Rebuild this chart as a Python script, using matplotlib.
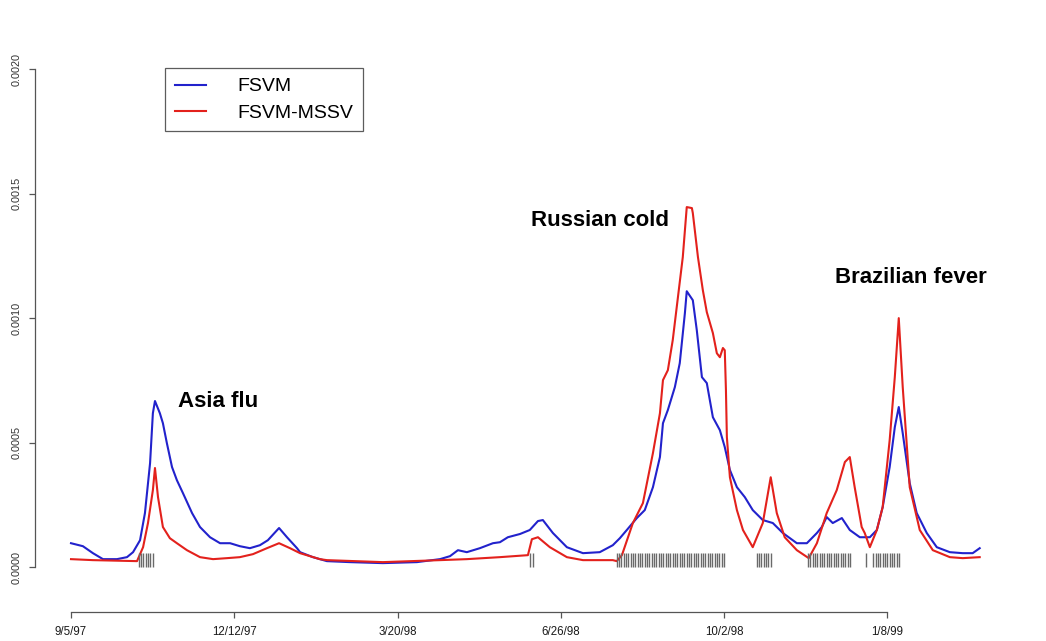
import matplotlib.pyplot as plt

plt.rcParams["font.family"] = ["Liberation Sans", "DejaVu Sans"]

# ==========================================================
# Data (trading-day index since 9/5/97)

fsvm_days = [0, 5.1, 9.4, 13.7, 19.7, 24.0, 26.6, 29.6, 31.7, 33.9, 35.1, 36.0,
    38.1, 39.4, 41.1, 43.3, 45.4, 48.0, 51.9, 55.3, 59.6, 63.9, 68.2, 72.4,
    76.7, 81.0, 84.4, 89.2, 92.6, 96.9, 98.2, 103.7, 109.7, 119.6, 133.7,
    148.3, 158.2, 162.5, 165.9, 169.7, 175.3, 180.9, 183.9, 187.3, 192.5,
    196.7, 200.2, 202.3, 206.6, 212.6, 219.5, 226.7, 232.3, 235.3, 238.3,
    242.6, 246.0, 249.5, 252.5, 253.8, 255.9, 258.9, 261.0, 263.2, 264.0,
    266.6, 268.3, 270.5, 272.6, 275.2, 278.2, 280.3, 282.5, 285.5, 288.9,
    292.3, 296.6, 300.9, 305.2, 311.2, 315.5, 319.8, 321.9, 324.0, 326.6,
    330.5, 333.9, 338.2, 342.5, 345.5, 348.0, 351.0, 353.2, 354.9, 356.6,
    359.6, 362.6, 366.9, 371.2, 376.8, 382.3, 386.6, 389.6]

fsvm_vals = [0.000096, 0.000084, 0.000056, 0.000032, 0.000032, 0.000040,
    0.000060, 0.000108, 0.000217, 0.000418, 0.000618, 0.000667, 0.000618,
    0.000578, 0.000498, 0.000402, 0.000349, 0.000297, 0.000217, 0.000161,
    0.000120, 0.000096, 0.000096, 0.000084, 0.000076, 0.000088, 0.000108,
    0.000157, 0.000120, 0.000076, 0.000060, 0.000040, 0.000024, 0.000020,
    0.000016, 0.000020, 0.000032, 0.000044, 0.000068, 0.000060, 0.000076,
    0.000096, 0.000100, 0.000120, 0.000133, 0.000149, 0.000185, 0.000189,
    0.000137, 0.000080, 0.000056, 0.000060, 0.000088, 0.000116, 0.000149,
    0.000197, 0.000229, 0.000321, 0.000442, 0.000578, 0.000631, 0.000723,
    0.000819, 0.001020, 0.001108, 0.001072, 0.000952, 0.000763, 0.000739,
    0.000602, 0.000550, 0.000482, 0.000390, 0.000321, 0.000281, 0.000229,
    0.000189, 0.000177, 0.000137, 0.000096, 0.000096, 0.000137, 0.000161,
    0.000201, 0.000177, 0.000197, 0.000149, 0.000120, 0.000120, 0.000149,
    0.000241, 0.000402, 0.000562, 0.000643, 0.000538, 0.000337, 0.000217,
    0.000137, 0.000080, 0.000060, 0.000056, 0.000056, 0.000076]

mssv_days = [0, 9.4, 28.3, 30.9, 33.0, 35.1, 36.0, 37.3, 39.4, 42.4, 45.4,
    49.7, 55.3, 60.9, 66.9, 72.4, 78.0, 84.0, 89.2, 93.9, 98.2, 106.7, 109.7,
    133.7, 158.2, 169.7, 183.9, 195.9, 197.6, 200.2, 205.3, 212.6, 219.5,
    232.3, 234.0, 236.2, 240.9, 245.2, 249.5, 252.5, 253.8, 255.9, 258.0,
    259.7, 262.3, 264.0, 266.2, 266.6, 268.8, 270.9, 272.6, 275.2, 276.9,
    278.2, 279.5, 280.3, 280.8, 281.2, 282.5, 285.5, 288.1, 292.3, 296.6,
    300.0, 302.6, 306.0, 311.2, 316.3, 319.8, 324.0, 328.3, 331.8, 333.9,
    336.0, 339.0, 340.3, 342.5, 345.5, 348.0, 351.0, 353.2, 354.9, 356.6,
    359.6, 363.9, 369.5, 376.8, 382.3, 389.6]

mssv_vals = [0.000032, 0.000028, 0.000024, 0.000080, 0.000177, 0.000309,
    0.000398, 0.000281, 0.000161, 0.000116, 0.000096, 0.000068, 0.000040,
    0.000032, 0.000036, 0.000040, 0.000052, 0.000076, 0.000096, 0.000076,
    0.000056, 0.000032, 0.000028, 0.000020, 0.000028, 0.000032, 0.000040,
    0.000048, 0.000112, 0.000120, 0.000080, 0.000040, 0.000028, 0.000028,
    0.000024, 0.000048, 0.000177, 0.000257, 0.000458, 0.000618, 0.000751,
    0.000791, 0.000912, 0.001044, 0.001245, 0.001446, 0.001442, 0.001422,
    0.001245, 0.001112, 0.001024, 0.000940, 0.000859, 0.000843, 0.000880,
    0.000871, 0.000711, 0.000522, 0.000361, 0.000229, 0.000149, 0.000080,
    0.000177, 0.000361, 0.000217, 0.000120, 0.000068, 0.000036, 0.000096,
    0.000217, 0.000309, 0.000422, 0.000442, 0.000321, 0.000161, 0.000137,
    0.000080, 0.000149, 0.000241, 0.000510, 0.000763, 0.001000, 0.000723,
    0.000321, 0.000149, 0.000068, 0.000040, 0.000036, 0.000040]

# flagged crisis days drawn as a rug
crisis_days = [29, 30, 31, 32, 33, 34, 35,
    197, 198,
    234, 235, 236, 237, 238, 239, 240, 241, 242, 243, 244, 245, 246, 247,
    248, 249, 250, 251, 252, 253, 254, 255, 256, 257, 258, 259, 260, 261,
    262, 263, 264, 265, 266, 267, 268, 269, 270, 271, 272, 273, 274, 275,
    276, 277, 278, 279, 280,
    294, 295, 296, 297, 298, 299, 300,
    316, 317, 318, 319, 320, 321, 322, 323, 324, 325, 326, 327, 328, 329,
    330, 331, 332, 333, 334,
    341,
    344, 345, 346, 347, 348, 349, 350, 351, 352, 353, 354, 355]

tick_days = [0, 70, 140, 210, 280, 350]
tick_labels = ["9/5/97", "12/12/97", "3/20/98", "6/26/98", "10/2/98", "1/8/99"]

events = ["Asia flu", "Russian cold", "Brazilian fever"]
event_days = [63, 226.7, 360]
event_vals = [0.000667, 0.001394, 0.001165]

# ==========================================================
# Plot

fig = plt.figure(figsize=(10.46, 6.41), dpi=100)
ax = fig.add_axes([0.0331, 0.0842, 0.9383, 0.839])

ax.plot(fsvm_days, fsvm_vals, color="#2222cc", lw=1.5, label="FSVM")
ax.plot(mssv_days, mssv_vals, color="#e3211c", lw=1.5, label="FSVM-MSSV")

ax.vlines(crisis_days, 0, 0.000055, color="#6a6a6a", lw=1.0)

for name, d, v in zip(events, event_days, event_vals):
    ax.text(d, v, name, fontsize=16, fontweight="bold",
        ha="center", va="center")

ax.set_xlim(-15.6, 405.2)
ax.set_ylim(-0.00008, 0.00208)

for side in ["top", "right"]:
    ax.spines[side].set_visible(False)

ax.spines["left"].set_bounds(0, 0.002)
ax.spines["bottom"].set_bounds(0, 350)
ax.spines["bottom"].set_position(("outward", 18))
for side in ["left", "bottom"]:
    ax.spines[side].set_color("#555555")
    ax.spines[side].set_linewidth(0.9)

ax.set_yticks([0, 0.0005, 0.001, 0.0015, 0.002])
ax.set_yticklabels(["0.0000", "0.0005", "0.0010", "0.0015", "0.0020"],
    rotation=90, va="center", fontsize=7.8)
ax.set_xticks(tick_days)
ax.set_xticklabels(tick_labels, fontsize=8.3)
ax.tick_params(colors="#555555", length=4, width=0.9)
ax.tick_params(axis="y", pad=5)
ax.tick_params(axis="x", pad=6)
for lab in ax.get_xticklabels():
    lab.set_color("#1a1a1a")
for lab in ax.get_yticklabels():
    lab.set_color("#333333")

leg = ax.legend(loc="upper left", bbox_to_anchor=(165 / 1046, 1 - 68 / 641),
    bbox_transform=fig.transFigure, fontsize=14, frameon=True,
    fancybox=False, borderaxespad=0, handlelength=1.6, handletextpad=1.6,
    borderpad=0.5, labelspacing=0.45)
leg.get_frame().set_edgecolor("#333333")
leg.get_frame().set_linewidth(0.9)

plt.savefig("out.png", dpi=100)
